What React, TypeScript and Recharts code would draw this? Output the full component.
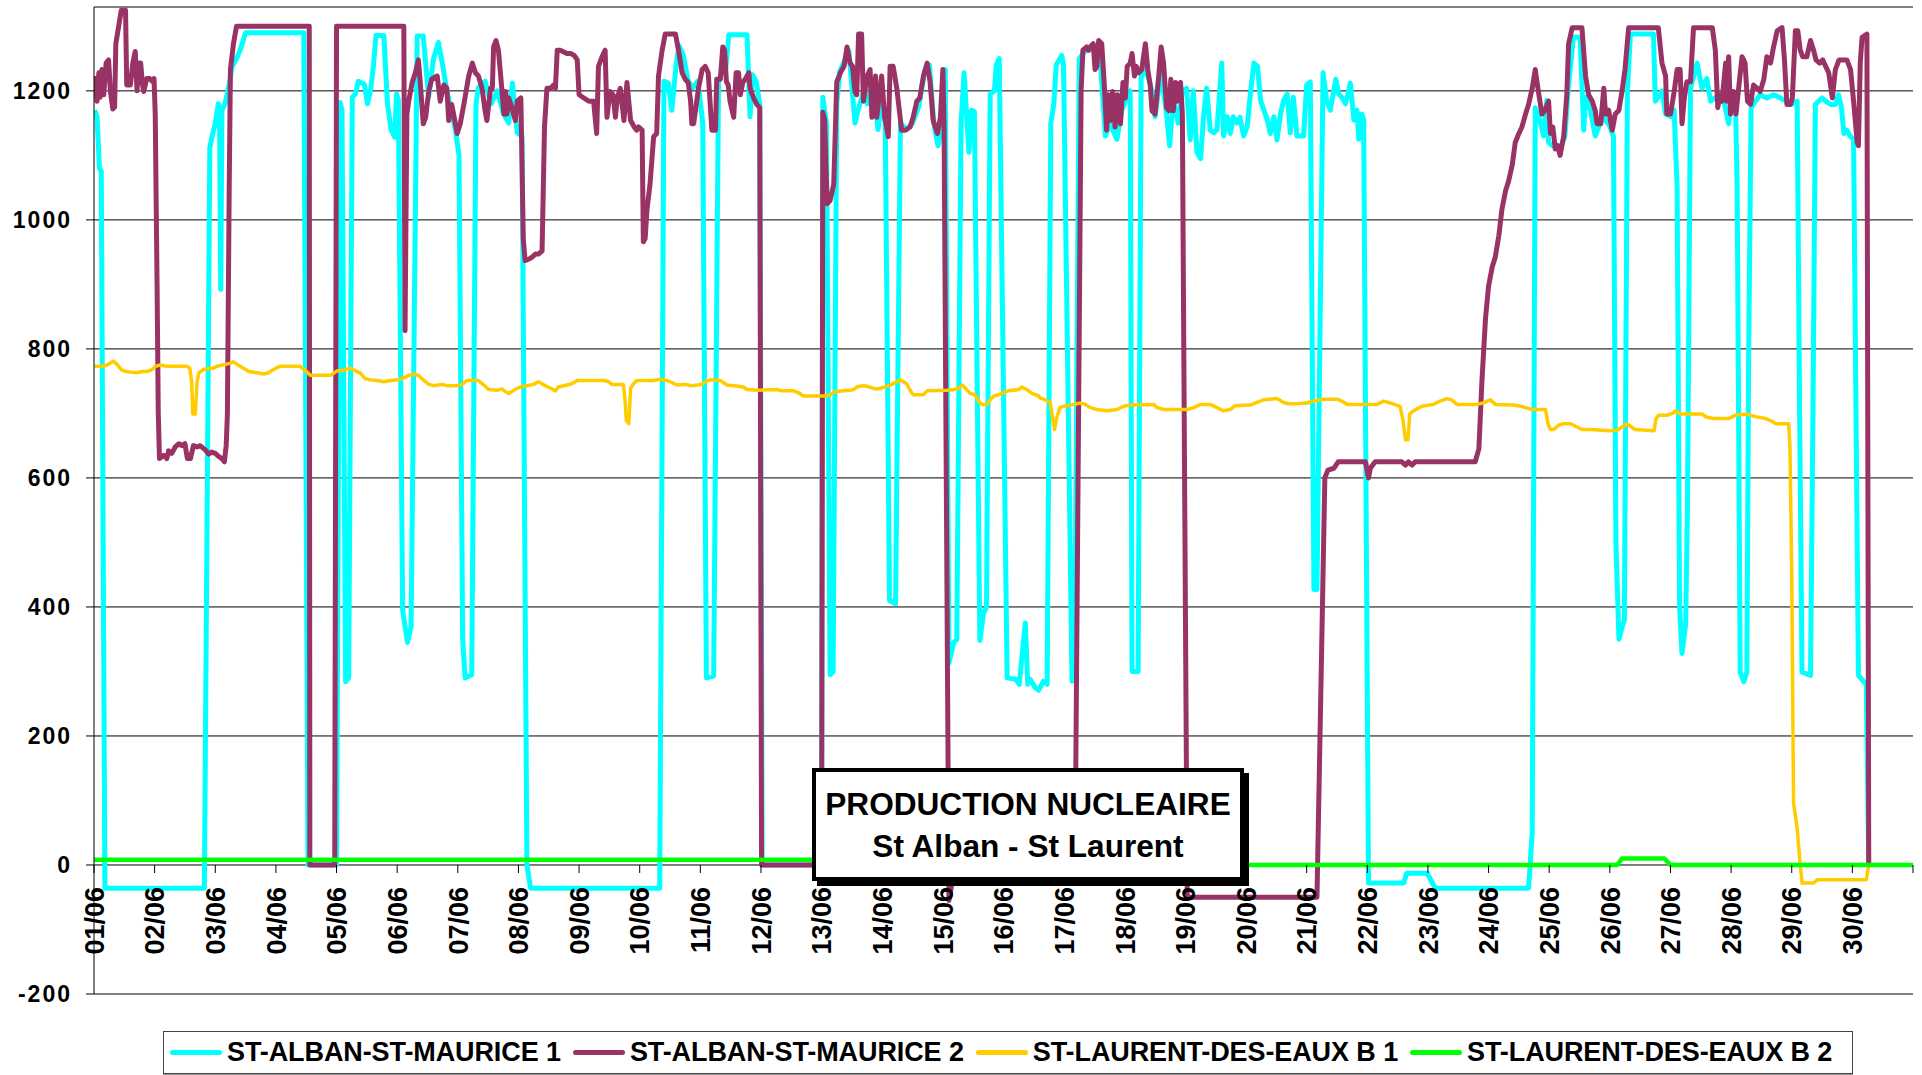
import { LineChart, Line, XAxis, YAxis, CartesianGrid } from 'recharts';

// day index (0 = 01/06 00:00) -> MW
const stAlban1: [number, number][] = [
  [0.01, 1170], [0.05, 1160], [0.09, 1080], [0.12, 1075], [0.18, -36],
  [1.82, -36], [1.91, 1112], [1.95, 1130], [2.0, 1150], [2.05, 1180], [2.07, 1175], [2.09, 892], [2.11, 1170],
  [2.16, 1180], [2.22, 1205], [2.28, 1238], [2.35, 1250], [2.41, 1263], [2.5, 1290],
  [3.46, 1290], [3.53, 0], [4.0, 0], [4.06, 1182], [4.09, 1170], [4.15, 284], [4.2, 290], [4.26, 1190],
  [4.31, 1195], [4.36, 1215], [4.46, 1210], [4.51, 1180], [4.56, 1200], [4.61, 1240], [4.65, 1286], [4.78, 1286],
  [4.84, 1180], [4.9, 1140], [4.96, 1128], [4.99, 1195], [5.02, 1185], [5.09, 395], [5.17, 345], [5.23, 370],
  [5.33, 1285], [5.43, 1285], [5.52, 1190], [5.6, 1250], [5.68, 1275], [5.75, 1240], [5.82, 1200], [5.96, 1140],
  [6.02, 1100], [6.08, 350], [6.12, 290], [6.23, 295], [6.3, 1180], [6.34, 1205], [6.45, 1215], [6.55, 1180],
  [6.65, 1200], [6.75, 1165], [6.84, 1150], [6.9, 1212], [6.98, 1135], [7.06, 1130], [7.14, 0], [7.2, -36],
  [9.33, -36], [9.4, 1215], [9.47, 1212], [9.53, 1170], [9.6, 1240], [9.65, 1270], [9.72, 1255], [9.8, 1215],
  [9.88, 1205], [9.96, 1215], [10.04, 1150], [10.1, 290], [10.22, 293], [10.3, 1215], [10.34, 1225], [10.42, 1235],
  [10.47, 1287], [10.77, 1287], [10.82, 1160], [10.86, 1225], [10.92, 1215], [10.98, 1180], [11.02, 0],
  [12.0, 0], [12.02, 1190], [12.08, 1150], [12.14, 295], [12.19, 300], [12.25, 1180], [12.3, 1230], [12.45, 1262],
  [12.55, 1150], [12.6, 1170], [12.7, 1200], [12.75, 1180], [12.85, 1215], [12.93, 1140], [13.0, 1190], [13.05, 1150],
  [13.12, 410], [13.22, 405], [13.3, 1150], [13.4, 1140], [13.5, 1150], [13.6, 1175], [13.7, 1230], [13.78, 1240],
  [13.85, 1150], [13.92, 1115], [13.98, 1140], [14.04, 1233], [14.1, 313], [14.18, 345], [14.23, 350], [14.3, 1150],
  [14.35, 1228], [14.43, 1105], [14.47, 1170], [14.52, 1168], [14.61, 348], [14.67, 390], [14.72, 400], [14.78, 1195],
  [14.85, 1200], [14.88, 1240], [14.93, 1250], [15.06, 290], [15.2, 288], [15.26, 280], [15.36, 375], [15.4, 280],
  [15.44, 288], [15.52, 275], [15.58, 271], [15.66, 285], [15.72, 280], [15.78, 1150], [15.83, 1180], [15.87, 1240],
  [15.96, 1255], [15.99, 1240], [16.13, 285], [16.17, 290], [16.25, 1250], [16.35, 1262], [16.5, 1265], [16.6, 1240],
  [16.68, 1130], [16.75, 1150], [16.87, 1125], [16.95, 1170], [17.04, 1190], [17.09, 1200], [17.12, 300], [17.22, 300],
  [17.27, 1220], [17.32, 1240], [17.45, 1200], [17.5, 1160], [17.6, 1230], [17.7, 1155], [17.74, 1115], [17.8, 1190],
  [17.88, 1150], [17.95, 1200], [18.02, 1204], [18.08, 1124], [18.13, 1200], [18.19, 1105], [18.25, 1095], [18.3, 1160],
  [18.35, 1204], [18.41, 1139], [18.47, 1135], [18.52, 1140], [18.6, 1243], [18.63, 1130], [18.69, 1160], [18.74, 1134],
  [18.79, 1160], [18.85, 1150], [18.9, 1159], [18.96, 1130], [19.02, 1145], [19.07, 1194], [19.13, 1243], [19.19, 1238],
  [19.24, 1185], [19.35, 1155], [19.4, 1134], [19.46, 1160], [19.51, 1124], [19.57, 1165], [19.62, 1185], [19.68, 1195],
  [19.73, 1135], [19.78, 1190], [19.84, 1130], [19.9, 1130], [19.95, 1130], [20.0, 1209], [20.06, 1214], [20.12, 427],
  [20.17, 427], [20.27, 1228], [20.33, 1185], [20.39, 1170], [20.48, 1218], [20.53, 1195], [20.58, 1190], [20.64, 1180],
  [20.72, 1212], [20.78, 1155], [20.83, 1170], [20.86, 1125], [20.91, 1164], [20.94, 1155], [21.02, -28], [21.6, -28],
  [21.65, -13], [21.99, -13], [22.12, -36], [23.66, -36], [23.72, 50], [23.77, 1174], [23.83, 1160], [23.91, 1130],
  [23.96, 1185], [23.99, 1120], [24.05, 1115], [24.2, 1115], [24.26, 1130], [24.31, 1200], [24.4, 1283], [24.51, 1283],
  [24.57, 1139], [24.6, 1190], [24.68, 1170], [24.76, 1130], [24.82, 1145], [24.9, 1160], [24.96, 1150], [25.0, 1145],
  [25.06, 1129], [25.1, 500], [25.15, 350], [25.2, 368], [25.24, 380], [25.29, 1200], [25.34, 1288], [25.72, 1288],
  [25.75, 1184], [25.83, 1194], [25.86, 1200], [25.92, 1164], [26.01, 1160], [26.06, 1170], [26.11, 1050], [26.15, 402],
  [26.19, 328], [26.25, 373], [26.28, 550], [26.33, 1204], [26.44, 1243], [26.52, 1204], [26.6, 1219], [26.66, 1184],
  [26.75, 1190], [26.82, 1190], [26.89, 1180], [26.96, 1149], [27.01, 1190], [27.07, 1194], [27.1, 1050], [27.15, 299],
  [27.21, 284], [27.26, 299], [27.29, 800], [27.33, 1174], [27.4, 1184], [27.48, 1194], [27.59, 1189], [27.7, 1194],
  [27.81, 1189], [27.92, 1184], [28.0, 1179], [28.09, 1184], [28.13, 700], [28.17, 299], [28.31, 294], [28.35, 700],
  [28.39, 1179], [28.5, 1189], [28.56, 1184], [28.64, 1179], [28.72, 1179], [28.77, 1194], [28.82, 1174], [28.86, 1134],
  [28.91, 1139], [28.97, 1129], [29.02, 1125], [29.06, 700], [29.1, 294], [29.19, 284], [29.23, 279], [29.27, 0],
];

const stAlban2: [number, number][] = [
  [0.01, 1223], [0.05, 1184], [0.08, 1228], [0.1, 1190], [0.13, 1233], [0.16, 1194], [0.2, 1243], [0.24, 1248],
  [0.27, 1200], [0.31, 1172], [0.34, 1175], [0.36, 1273], [0.41, 1302], [0.45, 1325], [0.52, 1325], [0.54, 1209],
  [0.6, 1209], [0.64, 1243], [0.68, 1261], [0.71, 1200], [0.74, 1243], [0.77, 1243], [0.8, 1210], [0.82, 1199],
  [0.87, 1219], [0.92, 1219], [0.97, 1214], [0.99, 1219], [1.01, 1164], [1.04, 900], [1.06, 700], [1.08, 630],
  [1.15, 635], [1.2, 630], [1.23, 642], [1.28, 638], [1.34, 648], [1.4, 653], [1.45, 650], [1.5, 653], [1.54, 630],
  [1.59, 630], [1.64, 650], [1.7, 648], [1.75, 650], [1.84, 643], [1.89, 637], [1.94, 640], [2.0, 638], [2.06, 633],
  [2.11, 630], [2.15, 625], [2.18, 650], [2.2, 699], [2.23, 1050], [2.25, 1233], [2.3, 1273], [2.35, 1300],
  [3.55, 1300], [3.56, 0], [3.97, 0], [4.0, 1300], [5.11, 1300], [5.13, 828], [5.16, 1164], [5.19, 1184], [5.25, 1214],
  [5.3, 1228], [5.35, 1248], [5.38, 1214], [5.43, 1149], [5.47, 1159], [5.52, 1199], [5.57, 1218], [5.66, 1223],
  [5.71, 1184], [5.77, 1209], [5.82, 1204], [5.85, 1154], [5.9, 1179], [5.94, 1159], [5.99, 1134], [6.04, 1149],
  [6.1, 1179], [6.18, 1223], [6.24, 1243], [6.29, 1228], [6.34, 1223], [6.4, 1204], [6.45, 1169], [6.48, 1154],
  [6.54, 1204], [6.57, 1204], [6.59, 1268], [6.63, 1278], [6.67, 1263], [6.73, 1199], [6.76, 1164], [6.79, 1199],
  [6.81, 1164], [6.84, 1189], [6.89, 1174], [6.95, 1154], [6.98, 1184], [7.04, 1189], [7.08, 971], [7.11, 937],
  [7.17, 939], [7.22, 942], [7.28, 947], [7.33, 947], [7.39, 952], [7.43, 1144], [7.47, 1204], [7.53, 1204],
  [7.58, 1209], [7.61, 1204], [7.64, 1263], [7.69, 1263], [7.8, 1258], [7.86, 1258], [7.92, 1255], [7.97, 1248],
  [8.0, 1194], [8.08, 1189], [8.16, 1184], [8.24, 1184], [8.29, 1134], [8.32, 1238], [8.38, 1253], [8.43, 1263],
  [8.46, 1159], [8.51, 1199], [8.56, 1194], [8.6, 1159], [8.63, 1189], [8.68, 1204], [8.74, 1154], [8.79, 1213],
  [8.85, 1154], [8.88, 1149], [8.91, 1144], [8.95, 1139], [8.98, 1144], [9.04, 1139], [9.06, 966], [9.09, 971],
  [9.12, 1016], [9.17, 1055], [9.23, 1129], [9.28, 1134], [9.31, 1223], [9.37, 1263], [9.42, 1288], [9.59, 1288],
  [9.64, 1263], [9.7, 1228], [9.75, 1218], [9.8, 1213], [9.84, 1184], [9.86, 1149], [9.89, 1149], [9.97, 1204],
  [10.03, 1233], [10.08, 1238], [10.13, 1228], [10.19, 1139], [10.25, 1139], [10.27, 1218], [10.33, 1218],
  [10.37, 1268], [10.4, 1263], [10.43, 1214], [10.46, 1209], [10.49, 1184], [10.55, 1159], [10.59, 1228],
  [10.63, 1228], [10.66, 1194], [10.7, 1213], [10.74, 1218], [10.8, 1228], [10.82, 1204], [10.88, 1189],
  [10.93, 1179], [10.98, 1174], [11.01, 0],
  [12.0, 0], [12.02, 1167], [12.05, 1155], [12.09, 1025], [12.14, 1030], [12.2, 1055], [12.25, 1214], [12.31, 1228],
  [12.37, 1238], [12.42, 1268], [12.47, 1243], [12.51, 1238], [12.55, 1199], [12.58, 1194], [12.61, 1288],
  [12.66, 1288], [12.69, 1184], [12.75, 1223], [12.8, 1233], [12.83, 1159], [12.89, 1223], [12.91, 1159],
  [12.94, 1184], [12.99, 1223], [13.04, 1159], [13.1, 1129], [13.13, 1238], [13.18, 1238], [13.24, 1204],
  [13.32, 1139], [13.38, 1139], [13.46, 1144], [13.51, 1159], [13.57, 1184], [13.62, 1189], [13.68, 1223],
  [13.74, 1243], [13.79, 1213], [13.84, 1154], [13.91, 1134], [13.96, 1159], [14.0, 1233], [14.02, 1144],
  [14.1, -55], [14.2, 0],
  [16.18, 0], [16.28, 1200], [16.31, 1263], [16.37, 1268], [16.4, 1263], [16.43, 1268], [16.48, 1273], [16.51, 1233],
  [16.54, 1238], [16.57, 1278], [16.62, 1273], [16.66, 1213], [16.7, 1139], [16.73, 1194], [16.76, 1154],
  [16.8, 1199], [16.84, 1144], [16.88, 1194], [16.93, 1149], [16.97, 1213], [17.01, 1189], [17.04, 1238],
  [17.09, 1243], [17.12, 1258], [17.16, 1223], [17.19, 1238], [17.23, 1228], [17.28, 1233], [17.34, 1273],
  [17.38, 1233], [17.42, 1209], [17.45, 1169], [17.5, 1164], [17.56, 1223], [17.6, 1268], [17.64, 1243],
  [17.69, 1174], [17.73, 1169], [17.76, 1218], [17.8, 1169], [17.84, 1213], [17.86, 1184], [17.92, 1213],
  [17.95, 1164], [17.98, 700], [18.03, -50],
  [20.17, -50], [20.3, 600], [20.35, 612], [20.45, 615], [20.52, 625], [20.97, 625], [21.02, 600], [21.05, 615],
  [21.13, 625], [21.57, 625], [21.63, 620], [21.68, 625], [21.74, 620], [21.79, 625], [22.78, 625], [22.84, 645],
  [22.89, 749], [22.95, 848], [23.0, 897], [23.06, 927], [23.11, 942], [23.17, 976], [23.22, 1016], [23.28, 1045],
  [23.33, 1060], [23.39, 1085], [23.44, 1120], [23.5, 1134], [23.55, 1144], [23.61, 1164], [23.66, 1179],
  [23.72, 1204], [23.77, 1233], [23.83, 1194], [23.88, 1164], [23.93, 1170], [23.99, 1184], [24.02, 1134],
  [24.06, 1144], [24.1, 1110], [24.14, 1115], [24.18, 1100], [24.24, 1130], [24.29, 1194], [24.32, 1273],
  [24.38, 1298], [24.54, 1298], [24.6, 1223], [24.65, 1194], [24.71, 1184], [24.76, 1169], [24.79, 1149],
  [24.85, 1149], [24.9, 1204], [24.93, 1164], [24.98, 1170], [25.04, 1139], [25.09, 1164], [25.15, 1170],
  [25.2, 1199], [25.25, 1233], [25.31, 1298], [25.8, 1298], [25.86, 1243], [25.92, 1223], [25.94, 1164],
  [26.0, 1164], [26.06, 1198], [26.11, 1233], [26.16, 1233], [26.19, 1149], [26.23, 1190], [26.27, 1214],
  [26.33, 1214], [26.38, 1298], [26.69, 1298], [26.74, 1263], [26.78, 1174], [26.82, 1194], [26.85, 1184],
  [26.88, 1214], [26.91, 1243], [26.93, 1184], [26.96, 1253], [26.99, 1164], [27.04, 1199], [27.08, 1164],
  [27.13, 1209], [27.18, 1253], [27.23, 1243], [27.27, 1184], [27.32, 1179], [27.37, 1209], [27.43, 1204],
  [27.48, 1199], [27.54, 1218], [27.59, 1253], [27.65, 1243], [27.7, 1268], [27.76, 1293], [27.84, 1298],
  [27.88, 1248], [27.92, 1179], [27.98, 1179], [28.01, 1189], [28.06, 1293], [28.1, 1293], [28.14, 1263],
  [28.18, 1253], [28.25, 1253], [28.31, 1278], [28.36, 1263], [28.4, 1248], [28.46, 1243], [28.51, 1248],
  [28.56, 1238], [28.61, 1228], [28.67, 1189], [28.72, 1233], [28.78, 1248], [28.91, 1248], [28.97, 1233],
  [29.02, 1184], [29.08, 1120], [29.1, 1115], [29.13, 1243], [29.16, 1283], [29.24, 1288], [29.27, 0],
];

const stLaurent1: [number, number][] = [
  [0.01, 773], [0.13, 773], [0.22, 775], [0.27, 778], [0.32, 781], [0.38, 776], [0.45, 768], [0.52, 765], [0.6, 764],
  [0.71, 763], [0.79, 765], [0.88, 765], [0.96, 768], [1.01, 773], [1.09, 775], [1.2, 773], [1.53, 773], [1.58, 770],
  [1.61, 749], [1.63, 699], [1.67, 699], [1.7, 749], [1.73, 763], [1.81, 768], [1.89, 770], [1.97, 770], [2.03, 773],
  [2.17, 776], [2.25, 778], [2.3, 780], [2.36, 776], [2.41, 773], [2.5, 768], [2.55, 765], [2.69, 763], [2.8, 761],
  [2.88, 763], [2.94, 767], [3.02, 771], [3.07, 773], [3.4, 773], [3.49, 766], [3.57, 759], [3.9, 759], [4.01, 766],
  [4.12, 767], [4.23, 770], [4.31, 766], [4.39, 763], [4.47, 754], [4.56, 752], [4.67, 751], [4.78, 749], [4.89, 751],
  [5.0, 752], [5.08, 754], [5.19, 759], [5.27, 761], [5.35, 759], [5.43, 752], [5.52, 745], [5.6, 743], [5.74, 745],
  [5.82, 743], [5.98, 743], [6.07, 745], [6.15, 751], [6.34, 751], [6.43, 744], [6.51, 737], [6.65, 736], [6.73, 738],
  [6.78, 734], [6.84, 731], [6.89, 734], [6.98, 739], [7.06, 742], [7.14, 743], [7.25, 745], [7.33, 749], [7.39, 746],
  [7.44, 743], [7.53, 739], [7.61, 735], [7.66, 741], [7.75, 743], [7.88, 746], [7.97, 751], [8.41, 751], [8.49, 749],
  [8.54, 745], [8.73, 745], [8.76, 719], [8.78, 689], [8.82, 684], [8.85, 739], [8.9, 746], [8.95, 751], [9.23, 751],
  [9.34, 753], [9.45, 751], [9.53, 748], [9.61, 744], [9.75, 745], [9.86, 743], [10.03, 745], [10.08, 749],
  [10.16, 752], [10.33, 751], [10.44, 744], [10.63, 742], [10.71, 741], [10.77, 737], [10.96, 736], [11.26, 737],
  [11.34, 735], [11.54, 735], [11.62, 732], [11.7, 727], [12.06, 727], [12.14, 729], [12.23, 734], [12.47, 736],
  [12.53, 737], [12.58, 741], [12.67, 743], [12.75, 742], [12.89, 738], [12.97, 739], [13.05, 741], [13.16, 745],
  [13.24, 749], [13.3, 752], [13.35, 749], [13.4, 746], [13.46, 736], [13.51, 729], [13.68, 729], [13.74, 735],
  [14.07, 736], [14.18, 737], [14.26, 739], [14.32, 744], [14.37, 739], [14.45, 731], [14.53, 729], [14.59, 719],
  [14.64, 714], [14.73, 714], [14.78, 721], [14.84, 727], [14.92, 729], [15.0, 732], [15.08, 735], [15.25, 737],
  [15.3, 741], [15.38, 737], [15.47, 731], [15.58, 727], [15.6, 724], [15.69, 721], [15.77, 717], [15.8, 699],
  [15.84, 675], [15.88, 694], [15.93, 709], [15.99, 711], [16.16, 714], [16.27, 716], [16.35, 714], [16.43, 709],
  [16.54, 706], [16.71, 704], [16.87, 706], [16.98, 711], [17.09, 713], [17.48, 714], [17.53, 709], [17.64, 706],
  [18.03, 706], [18.14, 709], [18.25, 714], [18.41, 714], [18.52, 709], [18.63, 704], [18.74, 706], [18.82, 712],
  [19.07, 713], [19.18, 717], [19.29, 721], [19.51, 723], [19.62, 717], [19.7, 715], [19.84, 715], [20.0, 716],
  [20.11, 719], [20.27, 722], [20.5, 722], [20.58, 719], [20.67, 714], [21.16, 714], [21.27, 719], [21.35, 717],
  [21.54, 711], [21.59, 689], [21.63, 659], [21.67, 659], [21.7, 699], [21.76, 704], [21.9, 711], [22.09, 714],
  [22.2, 719], [22.31, 723], [22.39, 721], [22.48, 714], [22.8, 714], [22.91, 716], [23.03, 721], [23.11, 714],
  [23.41, 713], [23.53, 711], [23.61, 709], [23.72, 706], [23.94, 706], [23.98, 684], [24.02, 675], [24.07, 675],
  [24.16, 682], [24.24, 684], [24.35, 684], [24.46, 679], [24.54, 675], [24.68, 675], [25.0, 673], [25.12, 674],
  [25.2, 679], [25.28, 684], [25.42, 675], [25.73, 673], [25.76, 691], [25.8, 697], [25.94, 697], [26.05, 701],
  [26.08, 704], [26.16, 699], [26.52, 699], [26.6, 694], [26.71, 692], [26.96, 692], [27.07, 697], [27.26, 699],
  [27.4, 695], [27.57, 692], [27.65, 689], [27.74, 684], [27.95, 684], [27.97, 650], [28.0, 452], [28.03, 96],
  [28.09, 56], [28.14, 0], [28.17, -28], [28.36, -28], [28.42, -23], [29.23, -23], [29.27, 0],
];

const stLaurent2: [number, number][] = [
  [0, 8], [13.0, 8], [13.05, 0], [25.12, 0], [25.2, 10], [25.9, 10], [26.0, 0], [30, 0],
];

const seriesNames = [
  'ST-ALBAN-ST-MAURICE 1',
  'ST-ALBAN-ST-MAURICE 2',
  'ST-LAURENT-DES-EAUX B 1',
  'ST-LAURENT-DES-EAUX B 2',
];
const seriesColors = ['#00FFFF', '#993366', '#FFCC00', '#00FF00'];
const seriesWidths = [5, 5, 3.5, 4.5];
const seriesData = [stAlban1, stAlban2, stLaurent1, stLaurent2];

const dayLabels = [
  '01/06', '02/06', '03/06', '04/06', '05/06', '06/06', '07/06', '08/06', '09/06', '10/06',
  '11/06', '12/06', '13/06', '14/06', '15/06', '16/06', '17/06', '18/06', '19/06', '20/06',
  '21/06', '22/06', '23/06', '24/06', '25/06', '26/06', '27/06', '28/06', '29/06', '30/06',
];
const dayTicks = [
  0, 1, 2, 3, 4, 5, 6, 7, 8, 9, 10, 11, 12, 13, 14, 15, 16, 17, 18, 19, 20, 21, 22, 23, 24, 25, 26, 27, 28, 29, 30,
];
const yTicks = [-200, 0, 200, 400, 600, 800, 1000, 1200];
const Y_MIN = -200;
const Y_MAX = 1330;

const W = 1922;
const H = 1075;
const MARGIN = { top: 7, right: 9, bottom: 51, left: 0 };
const X_AXIS_H = 30;
const PLOT_H = H - MARGIN.top - MARGIN.bottom - X_AXIS_H;
// x axis labels sit on the zero line, not on the bottom edge
const ZERO_SHIFT = (PLOT_H * (0 - Y_MIN)) / (Y_MAX - Y_MIN);

const FONT = '"Liberation Sans", Arial, Helvetica, sans-serif';

function DayTick(props: any) {
  const { x, y, payload } = props;
  const y0 = y - ZERO_SHIFT;
  const label = dayLabels[payload.value] ?? '';
  return (
    <g>
      <line x1={x} y1={y0} x2={x} y2={y0 + 8} stroke="#000" strokeWidth={1} />
      {label && (
        <text
          transform={`translate(${x},${y0 + 22}) rotate(-90)`}
          textAnchor="end"
          dy="0.36em"
          fontSize={27}
          fontWeight="bold"
          fontFamily={FONT}
          fill="#000"
        >
          {label}
        </text>
      )}
    </g>
  );
}

export default function App() {
  return (
    <div style={{ position: 'absolute', left: 0, top: 0, width: W, height: H, background: '#fff', fontFamily: FONT }}>
      <LineChart width={W} height={H} margin={MARGIN}>
        <CartesianGrid vertical={false} stroke="#000" strokeWidth={1} />
        <XAxis
          type="number"
          dataKey="t"
          domain={[0, 30]}
          ticks={dayTicks}
          interval={0}
          height={X_AXIS_H}
          axisLine={false}
          tickLine={false}
          tickSize={0}
          tickMargin={0}
          tick={<DayTick />}
          allowDataOverflow
        />
        <YAxis
          type="number"
          domain={[Y_MIN, Y_MAX]}
          ticks={yTicks}
          interval={0}
          width={94}
          stroke="#000"
          tickSize={8}
          tickMargin={14}
          allowDataOverflow
          tick={{ fontSize: 23, fontWeight: 'bold', fill: '#000', fontFamily: FONT, letterSpacing: 2 }}
        />
        {seriesData.map((pts, i) => (
          <Line
            key={seriesNames[i]}
            data={pts.map(([t, v]) => ({ t, v }))}
            dataKey="v"
            name={seriesNames[i]}
            type="linear"
            stroke={seriesColors[i]}
            strokeWidth={seriesWidths[i]}
            strokeLinejoin="round"
            dot={false}
            activeDot={false}
            isAnimationActive={false}
          />
        ))}
      </LineChart>

      {/* Title box */}
      <div
        style={{
          position: 'absolute',
          left: 812,
          top: 768,
          width: 432,
          height: 113,
          boxSizing: 'border-box',
          border: '4px solid #000',
          boxShadow: '5px 5px 0 #000',
          background: '#fff',
          textAlign: 'center',
          fontWeight: 'bold',
          fontSize: 31.6,
          lineHeight: '42px',
          paddingTop: 11,
          color: '#000',
        }}
      >
        <div>PRODUCTION NUCLEAIRE</div>
        <div>St Alban - St Laurent</div>
      </div>

      {/* Legend */}
      <div
        style={{
          position: 'absolute',
          left: 163,
          top: 1031,
          width: 1690,
          height: 43,
          boxSizing: 'border-box',
          border: '1px solid #444',
          boxShadow: '0 2px 0 #999',
          background: '#fff',
          display: 'flex',
          alignItems: 'center',
          paddingLeft: 6,
          gap: 12,
        }}
      >
        {seriesNames.map((name, i) => (
          <div key={name} style={{ display: 'flex', alignItems: 'center', gap: 5 }}>
            <div style={{ width: 52, height: 5, borderRadius: 3, background: seriesColors[i] }} />
            <span style={{ fontSize: 27, fontWeight: 'bold', letterSpacing: -0.1, color: '#000', whiteSpace: 'nowrap' }}>
              {name}
            </span>
          </div>
        ))}
      </div>
    </div>
  );
}
